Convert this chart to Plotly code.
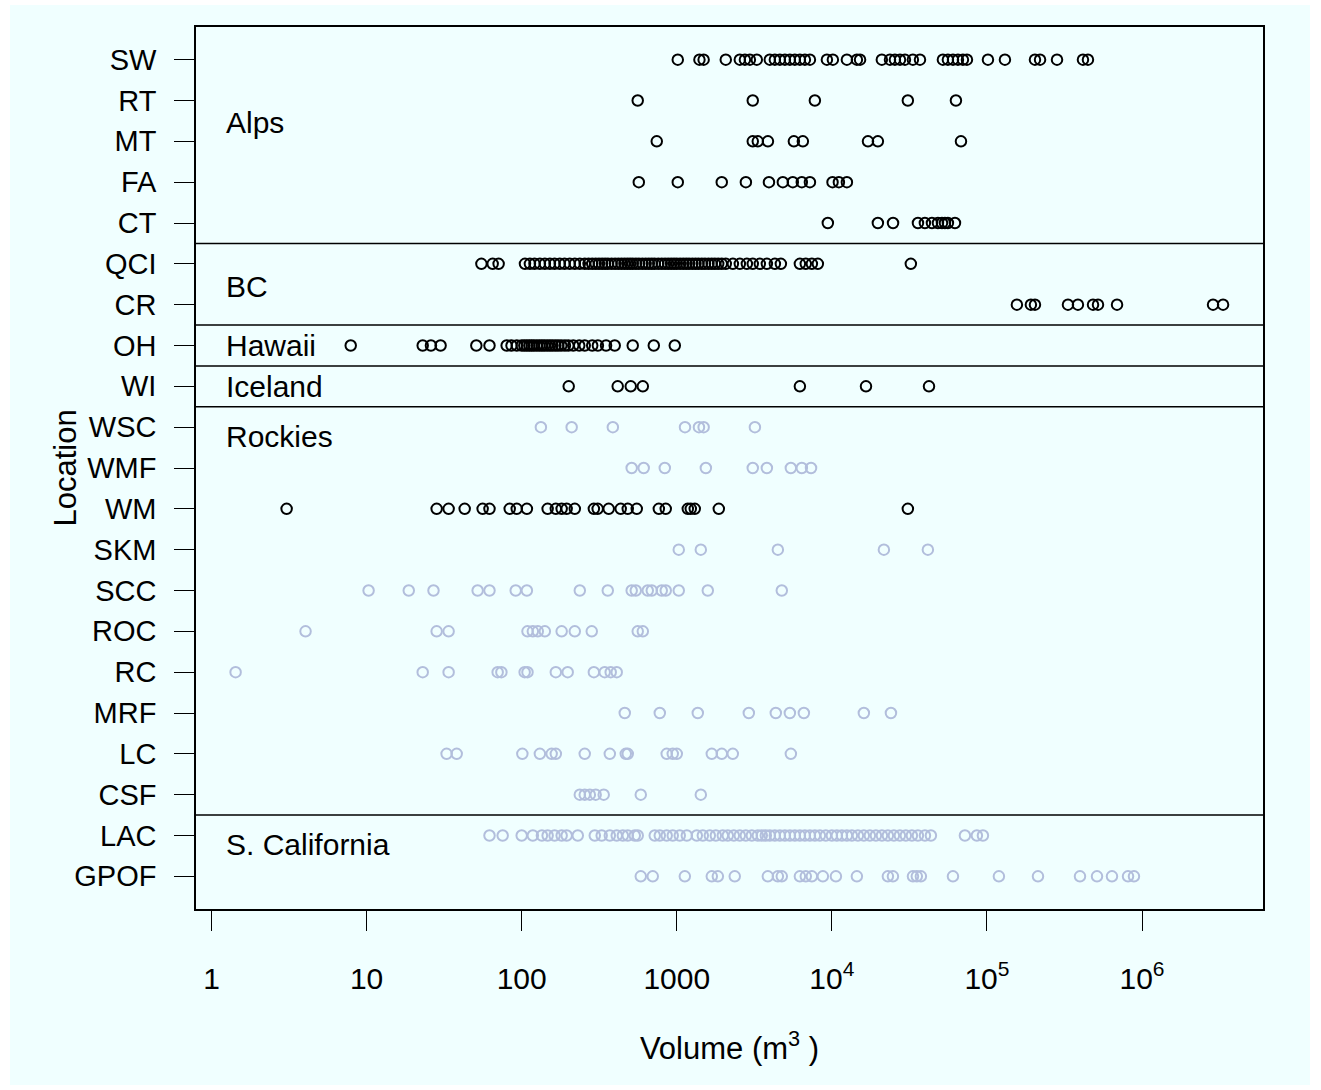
import plotly.graph_objects as go

# Volumes (m^3) per location
SW = [1015, 1400, 1490, 2070, 2550, 2750, 2960, 3280, 3980, 4290, 4620, 4980, 5360,
      5770, 6220, 6700, 7220, 9290, 10150, 12500, 14500, 15200, 21000, 23700, 25500,
      27500, 29600, 33300, 37000, 52000, 56000, 60400, 65000, 70000, 74300, 101500,
      130600, 204000, 220000, 283000, 416000, 448000]
RT = [560, 3090, 7770, 30900, 63100]
MT = [743, 3090, 3330, 3870, 5690, 6500, 17100, 19800, 68000]
FA = [569, 1015, 1950, 2790, 3930, 4830, 5600, 6400, 7220, 10100, 11100, 12500]
CT = [9420, 19800, 24800, 35900, 39800, 44200, 48300, 51300, 53600, 56000, 62200]
QCI = [55, 65, 71, 105, 113, 121, 131, 141, 152, 163, 176, 189, 204, 220, 237, 255,
       270, 285, 300, 315, 330, 345, 360, 380, 400, 420, 440, 460, 480, 500, 520, 545,
       570, 600, 630, 660, 690, 720, 760, 800, 840, 880, 920, 960, 1000, 1050, 1100,
       1150, 1200, 1260, 1320, 1380, 1450, 1520, 1600, 1680, 1760, 1850, 1950, 2070,
       2300, 2550, 2830, 3090, 3430, 3810, 4290, 4690, 6220, 6790, 7430, 8120, 32300]
CR = [156000, 192000, 204000, 333000, 386000, 483000, 520000, 690000, 2870000, 3330000]
OH = [7.9, 23, 26, 30, 51, 62, 80, 86, 93, 100, 104, 108, 112, 116, 120, 125, 130, 135,
      140, 146, 152, 158, 165, 172, 180, 190, 200, 215, 235, 255, 285, 310, 350, 398,
      520, 711, 971]
WI = [201, 416, 505, 604, 6220, 16600, 42300]
WSC = [133, 210, 387, 1130, 1390, 1490, 3190]
WMF = [512, 612, 837, 1540, 3090, 3810, 5440, 6400, 7340]
WM = [3.05, 28.3, 33.8, 42.9, 56, 62, 83.7, 92.9, 108, 147, 166, 181, 195, 220, 292,
      309, 364, 435, 483, 552, 766, 849, 1178, 1231, 1306, 1866, 30900]
SKM = [1030, 1429, 4485, 21650, 41600]
SCC = [10.3, 18.7, 27, 52, 62, 91.5, 108, 237, 359, 512, 544, 650, 690, 800, 849,
       1030, 1585, 4755]
ROC = [4.04, 28.3, 33.8, 109, 118, 127, 141, 181, 220, 283, 560, 604]
RC = [1.43, 23, 33.8, 70, 74, 104.5, 109, 166, 198, 292, 343, 375, 410]
MRF = [462, 777, 1366, 2914, 4350, 5360, 6600, 16080, 24040]
LC = [32.8, 38.1, 101, 131, 156, 166, 255, 370, 469, 483, 861, 942, 1000, 1682, 1951,
      2297, 5440]
CSF = [237, 255, 275, 300, 338, 586, 1429]
LAC = [62, 75.4, 100, 118, 135, 147, 163, 181, 195, 230, 296, 328, 370, 410, 449, 483,
       536, 560, 721, 777, 861, 942, 1045, 1161, 1346, 1472, 1633, 1786, 1980, 2133,
       2333, 2549, 2787, 3048, 3333, 3533, 3750, 3981, 4287, 4620, 4977, 5362, 5773,
       6219, 6697, 7215, 7770, 8370, 9140, 10000, 10770, 11610, 12500, 13460, 14720,
       16080, 17580, 19230, 21030, 22970, 25120, 27450, 29990, 32810, 35880, 39820,
       43510, 72100, 86100, 94200]
GPOF = [586, 700, 1127, 1682, 1840, 2365, 3865, 4485, 4755, 6220, 6790, 7430, 8750,
        10620, 14500, 22970, 24760, 33340, 35300, 37500, 60370, 119400, 213300, 398000,
        512400, 640000, 812000, 887000]

# Rows from top to bottom: (label, values, dark marker?)
ROWS = [
    ("SW", SW, True), ("RT", RT, True), ("MT", MT, True), ("FA", FA, True),
    ("CT", CT, True), ("QCI", QCI, True), ("CR", CR, True), ("OH", OH, True),
    ("WI", WI, True), ("WSC", WSC, False), ("WMF", WMF, False), ("WM", WM, True),
    ("SKM", SKM, False), ("SCC", SCC, False), ("ROC", ROC, False), ("RC", RC, False),
    ("MRF", MRF, False), ("LC", LC, False), ("CSF", CSF, False), ("LAC", LAC, False),
    ("GPOF", GPOF, False),
]

# Regions: (name, top row label, bottom row label, label row offset from bottom row)
REGIONS = [
    ("Alps", "SW", "CT", 2.46),
    ("BC", "QCI", "CR", 0.45),
    ("Hawaii", "OH", "OH", 0.0),
    ("Iceland", "WI", "WI", 0.0),
    ("Rockies", "WSC", "CSF", 8.78),
    ("S. California", "LAC", "GPOF", 0.78),
]

X_TICKS = [1, 10, 100, 1000, 1e4, 1e5, 1e6]
X_TICKTEXT = ["1", "10", "100", "1000", "10<sup>4</sup>", "10<sup>5</sup>", "10<sup>6</sup>"]

BG = "#F0FFFF"
DARK = "black"
LIGHT = "#B2BEDC"
FONT = "Liberation Sans, Arial, sans-serif"

n = len(ROWS)
ypos = {label: n - i for i, (label, _, _) in enumerate(ROWS)}

fig = go.Figure()
for label, vals, dark in ROWS:
    col = DARK if dark else LIGHT
    fig.add_trace(go.Scatter(
        x=vals, y=[ypos[label]] * len(vals), mode="markers",
        marker=dict(symbol="circle-open", size=10.5, color=col,
                    line=dict(width=2, color=col)),
        showlegend=False, hoverinfo="x+y", name=label,
    ))

# Separators between regions and the region names
for k, (name, top, bottom, off) in enumerate(REGIONS):
    if k > 0:
        yb = ypos[top] + 0.5
        fig.add_shape(type="line", xref="paper", x0=0, x1=1, yref="y", y0=yb, y1=yb,
                      line=dict(color="black", width=1.5))
    fig.add_annotation(text=name, xref="paper", x=0.026, xanchor="left",
                       yref="y", y=ypos[bottom] + off, yanchor="middle",
                       showarrow=False, font=dict(size=30, color="black", family=FONT))

# Axis title for the rows, placed beside the location labels
fig.add_annotation(text="Location", textangle=-90, xref="paper", x=-0.1232,
                   xanchor="center", yref="paper", y=0.5, yanchor="middle",
                   showarrow=False, font=dict(size=31, color="black", family=FONT))

# Light page background with a thin white border
fig.add_shape(type="rect", xref="paper", yref="paper", x0=-0.1743, x1=1.044,
              y0=-0.1995, y1=1.025, fillcolor=BG, line=dict(width=0), layer="below")

fig.update_layout(
    width=1321, height=1090,
    margin=dict(l=196, r=58, t=27, b=181),
    paper_bgcolor="white", plot_bgcolor=BG,
    font=dict(family=FONT, size=28, color="black"),
    xaxis=dict(
        type="log", range=[-0.1, 6.78], tickvals=X_TICKS, ticktext=X_TICKTEXT,
        ticks="outside", ticklen=20, tickwidth=1.2, tickcolor="black",
        showline=True, mirror=True, linecolor="black", linewidth=1.5,
        showgrid=False, zeroline=False, ticklabelstandoff=22,
        tickfont=dict(size=30),
        title=dict(text="Volume (m<sup>3</sup> )", font=dict(size=31), standoff=44),
    ),
    yaxis=dict(
        range=[0.2, n + 0.8], tickvals=[ypos[r[0]] for r in ROWS],
        ticktext=[r[0] for r in ROWS],
        ticks="outside", ticklen=20, tickwidth=1.2, tickcolor="black",
        showline=True, mirror=True, linecolor="black", linewidth=1.5,
        showgrid=False, zeroline=False, ticklabelstandoff=12,
        tickfont=dict(size=29),
    ),
)

fig.write_html("out.html")
